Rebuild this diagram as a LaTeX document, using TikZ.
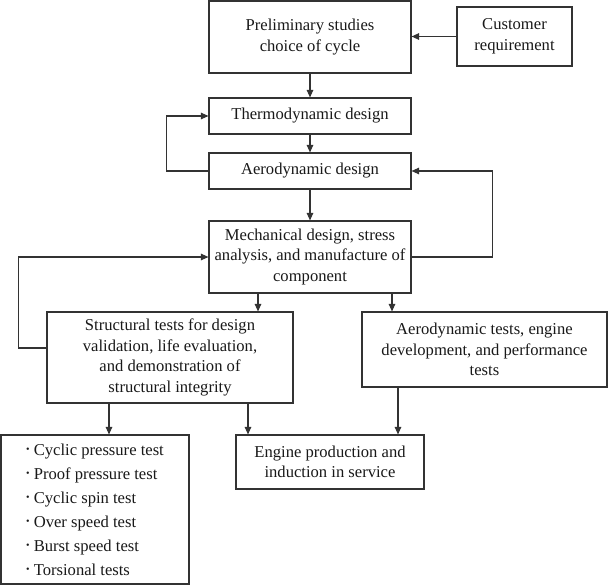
\documentclass[tikz,border=0pt]{standalone}
\usepackage{fontspec}
\setmainfont{Liberation Serif}
\usepackage{tikz}
\usetikzlibrary{arrows.meta, positioning}
\definecolor{ink}{HTML}{333333}
\newcommand{\bulletitem}[1]{\raisebox{2.5pt}{\scalebox{0.6}{\textbullet}}\ #1}

\begin{document}
\begin{tikzpicture}[
    x=1pt, y=-1pt,
    box/.style={rectangle, draw=ink, fill=white, line width=1.1pt, inner sep=1.5pt,
                align=center, font=\fontsize{16.6}{20.5}\selectfont, text=black!90},
    listbox/.style={box, align=left, font=\fontsize{16.6}{24}\selectfont},
    arr/.style={-{Triangle[length=7.5pt, width=6.5pt]}, line width=1.1pt, draw=ink}
]
\useasboundingbox (0,0) rectangle (608,586);

\node[box, minimum width=202, minimum height=72] (prelim) at (310,37) {Preliminary studies\\choice of cycle};
\node[box, minimum width=115, minimum height=59] (cust) at (514.5,36.5) {Customer\\requirement};
\node[box, minimum width=202, minimum height=36] (thermo) at (310,116) {Thermodynamic design};
\node[box, minimum width=202, minimum height=36] (aero) at (310,171) {Aerodynamic design};
\node[box, minimum width=202, minimum height=72] (mech) at (310,257) {Mechanical design, stress\\analysis, and manufacture of\\component};
\node[box, minimum width=246, minimum height=91] (struct) at (170,357.5) {Structural tests for design\\validation, life evaluation,\\and demonstration of\\structural integrity};
\node[box, minimum width=245, minimum height=75] (aerotest) at (484.5,349.5) {Aerodynamic tests, engine\\development, and performance\\tests};
\node[listbox, minimum width=188, minimum height=149] (tests) at (95,509.5) {\bulletitem{Cyclic pressure test}\\\bulletitem{Proof pressure test}\\\bulletitem{Cyclic spin test}\\\bulletitem{Over speed test}\\\bulletitem{Burst speed test}\\\bulletitem{Torsional tests}};
\node[box, minimum width=188, minimum height=54] (engine) at (330,462) {Engine production and\\induction in service};

\draw[arr] (cust.west) -- (cust.west -| prelim.east);
\draw[arr] (prelim) -- (thermo);
\draw[arr] (thermo) -- (aero);
\draw[arr] (aero) -- (mech);
\draw[arr] (aero.west) -- ++(-42,0) |- (thermo.west);
\draw[arr] (mech.east) -- ++(81,0) |- (aero.east);
\draw[arr] ([yshift=9.5pt]struct.west) -- ++(-28,0) |- (mech.west);
\draw[arr] ([xshift=-52pt]mech.south) -- ([xshift=-52pt]mech.south |- struct.north);
\draw[arr] ([xshift=82pt]mech.south) -- ([xshift=82pt]mech.south |- aerotest.north);
\draw[arr] ([xshift=14pt]tests.north |- struct.south) -- ([xshift=14pt]tests.north);
\draw[arr] ([xshift=-82pt]engine.north |- struct.south) -- ([xshift=-82pt]engine.north);
\draw[arr] ([xshift=68pt]engine.north |- aerotest.south) -- ([xshift=68pt]engine.north);
\end{tikzpicture}
\end{document}
